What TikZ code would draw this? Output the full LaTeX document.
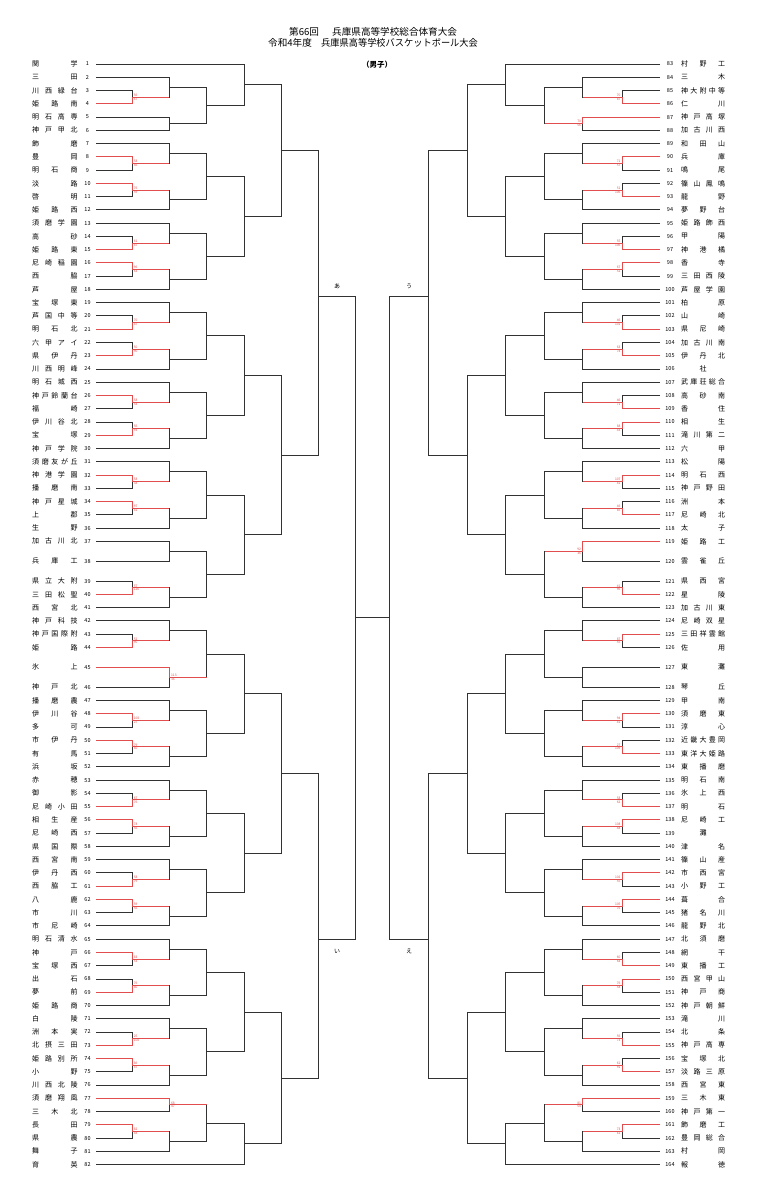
\documentclass[tikz,border=0pt]{standalone}
\usepackage{fontspec}
\setmainfont{Noto Sans CJK JP}
\usetikzlibrary{calc}
\definecolor{ln}{RGB}{50,50,50}
\definecolor{rd}{RGB}{226,78,78}
\def\LA{132pt}\def\LB{169.3pt}\def\LC{206.7pt}\def\LD{244pt}\def\LE{281.3pt}\def\LF{318.3pt}\def\LG{355.5pt}
\def\RA{622.3pt}\def\RB{582.8pt}\def\RC{544.5pt}\def\RD{505.5pt}\def\RE{467pt}\def\RF{428.3pt}\def\RG{389.3pt}
% join two slots #2,#3 with a vertical at x=#4, output coordinate #5
\newcommand\BJ[5][0.5]{%
 \draw[br] let \p1=(#2), \p2=(#3) in (\p1) -- (#4,\y1) -- (#4,\y2) -- (\p2);%
 \path let \p1=(#2), \p2=(#3) in (#4,{\y1+#1*(\y2-\y1)}) coordinate (#5);%
}
% red path of a winner
\newcommand\BW[3]{%
 \draw[rw] let \p1=(#1), \p2=(#2) in (\p1) -- (\x2,\y1) -- (\p2) -- (#3,\y2);%
}
% scores, left side / right side
\newcommand\ScL[3]{%
 \path let \p1=(#1) in node[sc,anchor=south west] (#1t) at (\x1+1.6pt,\y1+0.5pt) {#2}
  node[sc,anchor=north west] (#1b) at (\x1+1.6pt,\y1-0.5pt) {#3};}
\newcommand\ScR[3]{%
 \path let \p1=(#1) in node[sc,anchor=south east] (#1t) at (\x1-1.6pt,\y1+0.5pt) {#2}
  node[sc,anchor=north east] (#1b) at (\x1-1.6pt,\y1-0.5pt) {#3};}
% standard group of six
\newcommand\Gsix[6]{%
 \pgfmathtruncatemacro\gsa{#2}\pgfmathtruncatemacro\gsb{#2+1}\pgfmathtruncatemacro\gsc{#2+2}%
 \pgfmathtruncatemacro\gsd{#2+3}\pgfmathtruncatemacro\gse{#2+4}\pgfmathtruncatemacro\gsf{#2+5}%
 \BJ{#1\gsb}{#1\gsc}{#4}{#3p}%
 \BJ{#1\gsa}{#3p}{#5}{#3q}%
 \BJ{#1\gsd}{#1\gse}{#4}{#3r}%
 \BJ{#3r}{#1\gsf}{#5}{#3s}%
 \BJ{#3q}{#3s}{#6}{#3}%
}
\begin{document}
\begin{tikzpicture}[x=1pt,y=-1pt,
 br/.style={draw=ln,line width=0.9pt},
 rw/.style={draw=rd,line width=0.9pt},
 nm/.style={inner sep=0pt,anchor=west,font=\fontsize{7}{7}\selectfont},
 num/.style={inner sep=0pt,font=\fontsize{5.5}{5.5}\selectfont},
 sc/.style={inner sep=0pt,text=rd,font=\fontsize{3.3}{3.3}\selectfont},
 ttl/.style={inner sep=0pt,anchor=west,font=\fontsize{9.6}{9.6}\selectfont},
 lab/.style={inner sep=0pt,font=\fontsize{6}{6}\selectfont}]
\useasboundingbox[fill=white] (0,0) rectangle (773,1200);
% title
\node[ttl] (t1a) at (289,32) {第66回};
\node[ttl] (t1b) at (332,32) {兵庫県高等学校総合体育大会};
\node[ttl] (t2a) at (268,43) {令和4年度};
\node[ttl] (t2b) at (321,43) {\scalebox{0.96}[1]{兵庫県高等学校バスケットボール大会}};
\node[inner sep=0pt,font=\fontsize{7.5}{7.5}\selectfont\bfseries] (t3) at (377,65) {（男子）};
% left teams
\foreach \i/\nm in {1/{関\hfill 学},2/{三\hfill 田},3/{川\hfill 西\hfill 緑\hfill 台},4/{姫\hfill 路\hfill 南},5/{明\hfill 石\hfill 高\hfill 専},6/{神\hfill 戸\hfill 甲\hfill 北},7/{飾\hfill 磨},8/{豊\hfill 岡},9/{明\hfill 石\hfill 商},10/{淡\hfill 路},
11/{啓\hfill 明},12/{姫\hfill 路\hfill 西},13/{須\hfill 磨\hfill 学\hfill 園},14/{高\hfill 砂},15/{姫\hfill 路\hfill 東},16/{尼\hfill 崎\hfill 稲\hfill 園},17/{西\hfill 脇},18/{芦\hfill 屋},19/{宝\hfill 塚\hfill 東},20/{芦\hfill 国\hfill 中\hfill 等},
21/{明\hfill 石\hfill 北},22/{六\hfill 甲\hfill ア\hfill イ},23/{県\hfill 伊\hfill 丹},24/{川\hfill 西\hfill 明\hfill 峰},25/{明\hfill 石\hfill 城\hfill 西},26/{神\hfill 戸\hfill 鈴\hfill 蘭\hfill 台},27/{福\hfill 崎},28/{伊\hfill 川\hfill 谷\hfill 北},29/{宝\hfill 塚},30/{神\hfill 戸\hfill 学\hfill 院},
31/{須\hfill 磨\hfill 友\hfill が\hfill 丘},32/{神\hfill 港\hfill 学\hfill 園},33/{播\hfill 磨\hfill 南},34/{神\hfill 戸\hfill 星\hfill 城},35/{上\hfill 郡},36/{生\hfill 野},37/{加\hfill 古\hfill 川\hfill 北},38/{兵\hfill 庫\hfill 工},39/{県\hfill 立\hfill 大\hfill 附},40/{三\hfill 田\hfill 松\hfill 聖},
41/{西\hfill 宮\hfill 北},42/{神\hfill 戸\hfill 科\hfill 技},43/{神\hfill 戸\hfill 国\hfill 際\hfill 附},44/{姫\hfill 路},45/{氷\hfill 上},46/{神\hfill 戸\hfill 北},47/{播\hfill 磨\hfill 農},48/{伊\hfill 川\hfill 谷},49/{多\hfill 可},50/{市\hfill 伊\hfill 丹},
51/{有\hfill 馬},52/{浜\hfill 坂},53/{赤\hfill 穂},54/{御\hfill 影},55/{尼\hfill 崎\hfill 小\hfill 田},56/{相\hfill 生\hfill 産},57/{尼\hfill 崎\hfill 西},58/{県\hfill 国\hfill 際},59/{西\hfill 宮\hfill 南},60/{伊\hfill 丹\hfill 西},
61/{西\hfill 脇\hfill 工},62/{八\hfill 鹿},63/{市\hfill 川},64/{市\hfill 尼\hfill 崎},65/{明\hfill 石\hfill 清\hfill 水},66/{神\hfill 戸},67/{宝\hfill 塚\hfill 西},68/{出\hfill 石},69/{夢\hfill 前},70/{姫\hfill 路\hfill 商},
71/{白\hfill 陵},72/{洲\hfill 本\hfill 実},73/{北\hfill 摂\hfill 三\hfill 田},74/{姫\hfill 路\hfill 別\hfill 所},75/{小\hfill 野},76/{川\hfill 西\hfill 北\hfill 陵},77/{須\hfill 磨\hfill 翔\hfill 風},78/{三\hfill 木\hfill 北},79/{長\hfill 田},80/{県\hfill 農},
81/{舞\hfill 子},82/{育\hfill 英}}{
 \pgfmathsetmacro\pp{\i-1+0.5*(\i>37)+0.5*(\i>38)+0.5*(\i>44)+0.5*(\i>45)}
 \pgfmathsetmacro\yy{64+13.26*\pp}
 \node[nm] (n\i) at (32,\yy) {\makebox[45.5pt][s]{\nm}};
 \node[num] (u\i) at (87.5,\yy) {\i};
 \coordinate (a\i) at (96,\yy);
}
% right teams
\foreach \i/\nm in {83/{村\hfill 野\hfill 工},84/{三\hfill 木},85/{神\hfill 大\hfill 附\hfill 中\hfill 等},86/{仁\hfill 川},87/{神\hfill 戸\hfill 高\hfill 塚},88/{加\hfill 古\hfill 川\hfill 西},89/{和\hfill 田\hfill 山},90/{兵\hfill 庫},
91/{鳴\hfill 尾},92/{篠\hfill 山\hfill 鳳\hfill 鳴},93/{龍\hfill 野},94/{夢\hfill 野\hfill 台},95/{姫\hfill 路\hfill 飾\hfill 西},96/{甲\hfill 陽},97/{神\hfill 港\hfill 橘},98/{香\hfill 寺},99/{三\hfill 田\hfill 西\hfill 陵},100/{芦\hfill 屋\hfill 学\hfill 園},
101/{柏\hfill 原},102/{山\hfill 崎},103/{県\hfill 尼\hfill 崎},104/{加\hfill 古\hfill 川\hfill 南},105/{伊\hfill 丹\hfill 北},106/{\hfill 社\hfill},107/{武\hfill 庫\hfill 荘\hfill 総\hfill 合},108/{高\hfill 砂\hfill 南},109/{香\hfill 住},110/{相\hfill 生},
111/{滝\hfill 川\hfill 第\hfill 二},112/{六\hfill 甲},113/{松\hfill 陽},114/{明\hfill 石\hfill 西},115/{神\hfill 戸\hfill 野\hfill 田},116/{洲\hfill 本},117/{尼\hfill 崎\hfill 北},118/{太\hfill 子},119/{姫\hfill 路\hfill 工},120/{雲\hfill 雀\hfill 丘},
121/{県\hfill 西\hfill 宮},122/{星\hfill 陵},123/{加\hfill 古\hfill 川\hfill 東},124/{尼\hfill 崎\hfill 双\hfill 星},125/{三\hfill 田\hfill 祥\hfill 雲\hfill 館},126/{佐\hfill 用},127/{東\hfill 灘},128/{琴\hfill 丘},129/{甲\hfill 南},130/{須\hfill 磨\hfill 東},
131/{淳\hfill 心},132/{近\hfill 畿\hfill 大\hfill 豊\hfill 岡},133/{東\hfill 洋\hfill 大\hfill 姫\hfill 路},134/{東\hfill 播\hfill 磨},135/{明\hfill 石\hfill 南},136/{氷\hfill 上\hfill 西},137/{明\hfill 石},138/{尼\hfill 崎\hfill 工},139/{\hfill 灘\hfill},140/{津\hfill 名},
141/{篠\hfill 山\hfill 産},142/{市\hfill 西\hfill 宮},143/{小\hfill 野\hfill 工},144/{葺\hfill 合},145/{猪\hfill 名\hfill 川},146/{龍\hfill 野\hfill 北},147/{北\hfill 須\hfill 磨},148/{網\hfill 干},149/{東\hfill 播\hfill 工},150/{西\hfill 宮\hfill 甲\hfill 山},
151/{神\hfill 戸\hfill 商},152/{神\hfill 戸\hfill 朝\hfill 鮮},153/{滝\hfill 川},154/{北\hfill 条},155/{神\hfill 戸\hfill 高\hfill 専},156/{宝\hfill 塚\hfill 北},157/{淡\hfill 路\hfill 三\hfill 原},158/{西\hfill 宮\hfill 東},159/{三\hfill 木\hfill 東},160/{神\hfill 戸\hfill 第\hfill 一},
161/{飾\hfill 磨\hfill 工},162/{豊\hfill 岡\hfill 総\hfill 合},163/{村\hfill 岡},164/{報\hfill 徳}}{
 \pgfmathsetmacro\jj{\i-82}
 \pgfmathsetmacro\pp{\jj-1+0.5*(\jj>37)+0.5*(\jj>38)+0.5*(\jj>44)+0.5*(\jj>45)}
 \pgfmathsetmacro\yy{64+13.26*\pp}
 \node[nm] (n\i) at (681,\yy) {\makebox[44pt][s]{\nm}};
 \node[num] (u\i) at (670,\yy) {\i};
 \coordinate (b\i) at (660,\yy);
}
% ---- left bracket ----
\BJ{a3}{a4}{\LA}{L1p}\BJ{a2}{L1p}{\LB}{L1q}\BJ{a5}{a6}{\LB}{L1s}\BJ{L1q}{L1s}{\LC}{L1}
\Gsix{a}{7}{L2}{\LA}{\LB}{\LC}
\Gsix{a}{13}{L3}{\LA}{\LB}{\LC}
\Gsix{a}{19}{L4}{\LA}{\LB}{\LC}
\Gsix{a}{25}{L5}{\LA}{\LB}{\LC}
\Gsix{a}{31}{L6}{\LA}{\LB}{\LC}
\BJ{a37}{a38}{\LB}{L7q}\BJ{a39}{a40}{\LA}{L7r}\BJ{L7r}{a41}{\LB}{L7s}\BJ{L7q}{L7s}{\LC}{L7}
\BJ{a43}{a44}{\LA}{L8p}\BJ{a42}{L8p}{\LB}{L8q}\BJ{a45}{a46}{\LB}{L8s}\BJ{L8q}{L8s}{\LC}{L8}
\Gsix{a}{47}{L9}{\LA}{\LB}{\LC}
\Gsix{a}{53}{L10}{\LA}{\LB}{\LC}
\Gsix{a}{59}{L11}{\LA}{\LB}{\LC}
\Gsix{a}{65}{L12}{\LA}{\LB}{\LC}
\Gsix{a}{71}{L13}{\LA}{\LB}{\LC}
\BJ{a77}{a78}{\LB}{L14q}\BJ{a79}{a80}{\LA}{L14r}\BJ{L14r}{a81}{\LB}{L14s}\BJ{L14q}{L14s}{\LC}{L14}
\BJ{a1}{L1}{\LD}{H1}\BJ{L2}{L3}{\LD}{H2}\BJ{L4}{L5}{\LD}{H3}\BJ{L6}{L7}{\LD}{H4}
\BJ{H1}{H2}{\LE}{K1}\BJ{H3}{H4}{\LE}{K2}\BJ[0.478]{K1}{K2}{\LF}{BA}
\BJ{L8}{L9}{\LD}{H5}\BJ{L10}{L11}{\LD}{H6}\BJ{L12}{L13}{\LD}{H7}\BJ{L14}{a82}{\LD}{H8}
\BJ{H5}{H6}{\LE}{K3}\BJ{H7}{H8}{\LE}{K4}\BJ[0.544]{K3}{K4}{\LF}{BI}
\BJ{BA}{BI}{\LG}{CL}
% ---- right bracket ----
\BJ{b85}{b86}{\RA}{R1p}\BJ{b84}{R1p}{\RB}{R1q}\BJ{b87}{b88}{\RB}{R1s}\BJ{R1q}{R1s}{\RC}{R1}
\Gsix{b}{89}{R2}{\RA}{\RB}{\RC}
\Gsix{b}{95}{R3}{\RA}{\RB}{\RC}
\Gsix{b}{101}{R4}{\RA}{\RB}{\RC}
\Gsix{b}{107}{R5}{\RA}{\RB}{\RC}
\Gsix{b}{113}{R6}{\RA}{\RB}{\RC}
\BJ{b119}{b120}{\RB}{R7q}\BJ{b121}{b122}{\RA}{R7r}\BJ{R7r}{b123}{\RB}{R7s}\BJ{R7q}{R7s}{\RC}{R7}
\BJ{b125}{b126}{\RA}{R8p}\BJ{b124}{R8p}{\RB}{R8q}\BJ{b127}{b128}{\RB}{R8s}\BJ{R8q}{R8s}{\RC}{R8}
\Gsix{b}{129}{R9}{\RA}{\RB}{\RC}
\Gsix{b}{135}{R10}{\RA}{\RB}{\RC}
\Gsix{b}{141}{R11}{\RA}{\RB}{\RC}
\Gsix{b}{147}{R12}{\RA}{\RB}{\RC}
\Gsix{b}{153}{R13}{\RA}{\RB}{\RC}
\BJ{b159}{b160}{\RB}{R14q}\BJ{b161}{b162}{\RA}{R14r}\BJ{R14r}{b163}{\RB}{R14s}\BJ{R14q}{R14s}{\RC}{R14}
\BJ{b83}{R1}{\RD}{RH1}\BJ{R2}{R3}{\RD}{RH2}\BJ{R4}{R5}{\RD}{RH3}\BJ{R6}{R7}{\RD}{RH4}
\BJ{RH1}{RH2}{\RE}{RK1}\BJ{RH3}{RH4}{\RE}{RK2}\BJ[0.478]{RK1}{RK2}{\RF}{BU}
\BJ{R8}{R9}{\RD}{RH5}\BJ{R10}{R11}{\RD}{RH6}\BJ{R12}{R13}{\RD}{RH7}\BJ{R14}{b164}{\RD}{RH8}
\BJ{RH5}{RH6}{\RE}{RK3}\BJ{RH7}{RH8}{\RE}{RK4}\BJ[0.544]{RK3}{RK4}{\RF}{BE}
\BJ{BU}{BE}{\RG}{CR}
\draw[br] (CL) -- (CR);
% block labels
\node[lab] (la) at (337,286) {あ};
\node[lab] (li) at (337,951) {い};
\node[lab] (lu) at (409,286) {う};
\node[lab] (le) at (409,951) {え};
% ---- winners (red) ----
\BW{a4}{L1p}{\LB}
\BW{a8}{L2p}{\LB}\BW{a10}{L2r}{\LB}
\BW{a15}{L3p}{\LB}\BW{a16}{L3r}{\LB}
\BW{a21}{L4p}{\LB}\BW{a23}{L4r}{\LB}
\BW{a26}{L5p}{\LB}\BW{a29}{L5r}{\LB}
\BW{a32}{L6p}{\LB}\BW{a34}{L6r}{\LB}
\BW{a40}{L7r}{\LB}
\BW{a44}{L8p}{\LB}\BW{a45}{L8s}{\LC}
\BW{a48}{L9p}{\LB}\BW{a50}{L9r}{\LB}
\BW{a55}{L10p}{\LB}\BW{a56}{L10r}{\LB}
\BW{a61}{L11p}{\LB}\BW{a62}{L11r}{\LB}
\BW{a66}{L12p}{\LB}\BW{a69}{L12r}{\LB}
\BW{a73}{L13p}{\LB}\BW{a74}{L13r}{\LB}
\BW{a77}{L14q}{\LC}\BW{a79}{L14r}{\LB}
\BW{b86}{R1p}{\RB}\BW{b87}{R1s}{\RC}
\BW{b90}{R2p}{\RB}\BW{b93}{R2r}{\RB}
\BW{b97}{R3p}{\RB}\BW{b98}{R3r}{\RB}
\BW{b103}{R4p}{\RB}\BW{b105}{R4r}{\RB}
\BW{b109}{R5p}{\RB}\BW{b110}{R5r}{\RB}
\BW{b114}{R6p}{\RB}\BW{b117}{R6r}{\RB}
\BW{b119}{R7q}{\RC}\BW{b122}{R7r}{\RB}
\BW{b125}{R8p}{\RB}
\BW{b130}{R9p}{\RB}\BW{b133}{R9r}{\RB}
\BW{b137}{R10p}{\RB}\BW{b138}{R10r}{\RB}
\BW{b142}{R11p}{\RB}\BW{b144}{R11r}{\RB}
\BW{b149}{R12p}{\RB}\BW{b150}{R12r}{\RB}
\BW{b155}{R13p}{\RB}\BW{b157}{R13r}{\RB}
\BW{b159}{R14q}{\RC}\BW{b161}{R14r}{\RB}
% ---- scores ----
\ScL{L1p}{56}{67}
\ScL{L2p}{58}{46}\ScL{L2r}{76}{59}
\ScL{L3p}{61}{87}\ScL{L3r}{96}{63}
\ScL{L4p}{70}{87}\ScL{L4r}{50}{90}
\ScL{L5p}{58}{54}\ScL{L5r}{56}{93}
\ScL{L6p}{58}{38}\ScL{L6r}{97}{41}
\ScL{L7r}{57}{126}
\ScL{L8p}{52}{90}\ScL{L8s}{113}{36}
\ScL{L9p}{108}{27}\ScL{L9r}{79}{60}
\ScL{L10p}{67}{76}\ScL{L10r}{78}{56}
\ScL{L11p}{58}{79}\ScL{L11r}{59}{56}
\ScL{L12p}{83}{53}\ScL{L12r}{76}{80}
\ScL{L13p}{25}{108}\ScL{L13r}{86}{47}
\ScL{L14q}{68}{47}\ScL{L14r}{82}{48}
\ScR{R1p}{70}{87}\ScR{R1s}{70}{56}
\ScR{R2p}{71}{57}\ScR{R2r}{51}{106}
\ScR{R3p}{55}{106}\ScR{R3r}{67}{52}
\ScR{R4p}{46}{101}\ScR{R4r}{63}{74}
\ScR{R5p}{46}{71}\ScR{R5r}{88}{43}
\ScR{R6p}{107}{41}\ScR{R6r}{46}{85}
\ScR{R7q}{92}{36}\ScR{R7r}{41}{96}
\ScR{R8p}{87}{55}
\ScR{R9p}{94}{41}\ScR{R9r}{27}{109}
\ScR{R10p}{58}{62}\ScR{R10r}{108}{48}
\ScR{R11p}{102}{55}\ScR{R11r}{105}{76}
\ScR{R12p}{60}{64}\ScR{R12r}{76}{58}
\ScR{R13p}{56}{73}\ScR{R13r}{61}{91}
\ScR{R14q}{81}{54}\ScR{R14r}{73}{61}
\end{tikzpicture}
\end{document}
